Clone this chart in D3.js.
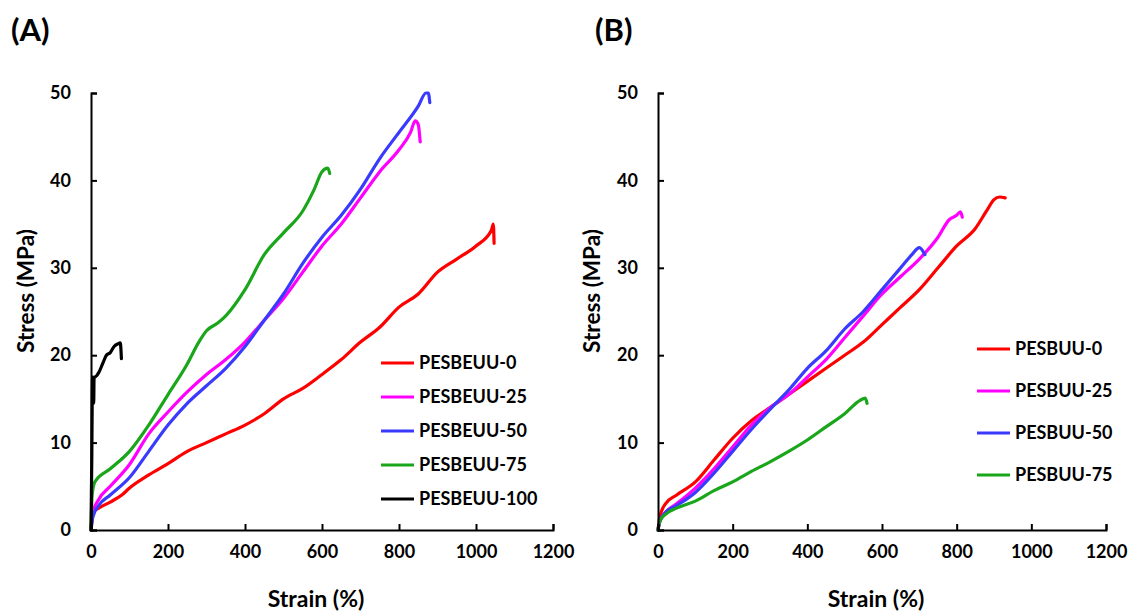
<!DOCTYPE html>
<html>
<head>
<meta charset="utf-8">
<script src="https://cdn.jsdelivr.net/npm/d3@7"></script>
<style>
  body { margin: 0; background: #fff; }
  svg { display: block; }
  text { font-family: Lato, "Open Sans", sans-serif; font-weight: bold; fill: #000; }
</style>
</head>
<body>
<svg id="chart" width="1128" height="614"></svg>
<script>
// ---- Data (strain %, stress MPa) ----
const xTicks = [0, 200, 400, 600, 800, 1000, 1200];
const yTicks = [0, 10, 20, 30, 40, 50];

const seriesNamesA = ["PESBEUU-0", "PESBEUU-25", "PESBEUU-50", "PESBEUU-75", "PESBEUU-100"];
const seriesNamesB = ["PESBUU-0", "PESBUU-25", "PESBUU-50", "PESBUU-75"];
const seriesColors = ["#ff0000", "#ff00ff", "#3a3aff", "#1aa61a", "#000000"];

const pesbeuu0 = [[0,0],[5,2],[20,2.5],[50,3.2],[80,4],[100,4.8],[150,6.3],[200,7.6],[250,9],[300,10],[350,11],[400,12],[450,13.3],[500,15],[550,16.2],[600,17.8],[650,19.5],[700,21.5],[750,23.2],[800,25.5],[850,27],[900,29.5],[950,31],[1000,32.5],[1040,34.3],[1045,35],[1047,32.8]];
const pesbeuu25 = [[0,0],[5,2],[20,3.5],[50,5],[100,7.5],[150,11],[200,13.5],[250,15.8],[300,17.8],[350,19.5],[400,21.5],[450,24],[500,26.5],[550,29.5],[600,32.5],[650,35],[700,38],[750,41],[800,43.5],[830,45.5],[842,46.8],[850,46.4],[855,44.4]];
const pesbeuu50 = [[0,0],[5,1.5],[20,2.8],[50,4],[100,6],[150,9],[200,12],[250,14.5],[300,16.5],[350,18.5],[400,21],[450,24],[500,27],[550,30.5],[600,33.5],[650,36],[700,39],[750,42.5],[800,45.5],[850,48.5],[870,50],[876,50],[880,48.9]];
const pesbeuu75 = [[0,0],[3,4],[10,5.5],[50,7],[100,9],[150,12],[200,15.5],[250,19],[280,21.5],[300,22.8],[330,23.7],[350,24.5],[400,27.5],[450,31.5],[500,34],[550,36.5],[580,39],[600,41],[615,41.4],[620,40.8]];
const pesbeuu100 = [[0,0],[2,8],[3,14],[4,17.5],[6,17],[7,14.5],[8,17.5],[10,17.5],[20,18],[30,19],[40,20],[50,20.3],[60,21],[70,21.3],[76,21.4],[78,20.5],[79,19.6]];

const pesbuu0 = [[0,0],[5,1.5],[20,3],[50,4],[100,5.5],[150,8],[200,10.5],[250,12.5],[300,14],[350,15.5],[400,17],[450,18.5],[500,20],[550,21.5],[600,23.5],[650,25.5],[700,27.5],[750,30],[800,32.5],[850,34.5],[880,36.5],[900,37.8],[915,38.1],[930,38]];
const pesbuu25 = [[0,0],[5,1],[20,2],[50,3],[100,4.8],[150,7],[200,9.5],[250,12],[300,14],[350,15.5],[400,17.5],[450,19.5],[500,22],[550,24.5],[600,27],[650,29],[700,31],[750,33.5],[780,35.5],[800,36],[810,36.4],[815,35.8]];
const pesbuu50 = [[0,0],[5,1],[20,2],[50,2.8],[100,4.3],[150,6.5],[200,9],[250,11.5],[300,13.8],[350,16],[400,18.5],[450,20.5],[500,23],[550,25],[600,27.5],[650,30],[680,31.5],[700,32.3],[715,31.5]];
const pesbuu75 = [[0,0],[5,1],[20,1.8],[50,2.5],[100,3.3],[150,4.5],[200,5.5],[250,6.7],[300,7.8],[350,9],[400,10.3],[450,11.8],[500,13.3],[540,14.8],[555,15.1],[560,14.5]];

const seriesA = [pesbeuu0, pesbeuu25, pesbeuu50, pesbeuu75, pesbeuu100];
const seriesB = [pesbuu0, pesbuu25, pesbuu50, pesbuu75];

const svg = d3.select("#chart");

function panel(cfg) {
  const x = d3.scaleLinear().domain([0, 1200]).range([cfg.x0, cfg.x1]);
  const y = d3.scaleLinear().domain([0, 50]).range([530, 93]);
  const g = svg.append("g");

  // series
  const line = d3.line().x(d => x(d[0])).y(d => y(d[1])).curve(d3.curveMonotoneX);
  cfg.series.forEach((s, i) => {
    g.append("path").datum(s)
      .attr("d", line)
      .attr("fill", "none")
      .attr("stroke", seriesColors[i])
      .attr("stroke-width", 3.2)
      .attr("stroke-linejoin", "round")
      .attr("stroke-linecap", "round");
  });

  // axes
  const xa = g.append("g").attr("transform", `translate(0,${y(0)})`)
    .call(d3.axisBottom(x).tickValues(xTicks).tickSize(-6).tickPadding(15).tickFormat(d3.format("d")));
  const ya = g.append("g").attr("transform", `translate(${x(0)},0)`)
    .call(d3.axisLeft(y).tickValues(yTicks).tickSize(-6).tickPadding(20).tickFormat(d3.format("d")));
  [xa, ya].forEach(a => {
    a.select(".domain").attr("stroke", "#000").attr("stroke-width", 2);
    a.selectAll(".tick line").attr("stroke", "#000").attr("stroke-width", 2);
    a.selectAll(".tick text").style("font-family", "Lato, sans-serif").style("font-weight", "bold").style("font-size", "18px").attr("fill", "#000");
  });

  // axis titles
  g.append("text").attr("x", (cfg.x0 + cfg.x1) / 2 - 6).attr("y", 607)
    .attr("text-anchor", "middle").style("font-size", "23px").text("Strain (%)");
  g.append("text").attr("transform", `translate(${cfg.yTitleX},291) rotate(-90)`)
    .attr("text-anchor", "middle").style("font-size", "22.5px").text("Stress (MPa)");

  // panel label
  g.append("text").attr("x", cfg.labelX).attr("y", 41).style("font-size", "31px").text(cfg.label);

  // legend
  cfg.names.forEach((n, i) => {
    const ly = cfg.legY + i * cfg.legStep;
    g.append("line").attr("x1", cfg.legX).attr("x2", cfg.legX + 33).attr("y1", ly).attr("y2", ly)
      .attr("stroke", seriesColors[i]).attr("stroke-width", 3.2);
    g.append("text").attr("x", cfg.legX + 38).attr("y", ly).attr("dy", "0.35em")
      .style("font-size", "18px").text(n);
  });
}

panel({ x0: 91, x1: 553, series: seriesA, names: seriesNamesA, label: "(A)", labelX: 11,
        yTitleX: 34, legX: 381, legY: 363, legStep: 34 });
panel({ x0: 658, x1: 1106, series: seriesB, names: seriesNamesB, label: "(B)", labelX: 595,
        yTitleX: 600, legX: 977, legY: 349, legStep: 42 });
</script>
</body>
</html>
